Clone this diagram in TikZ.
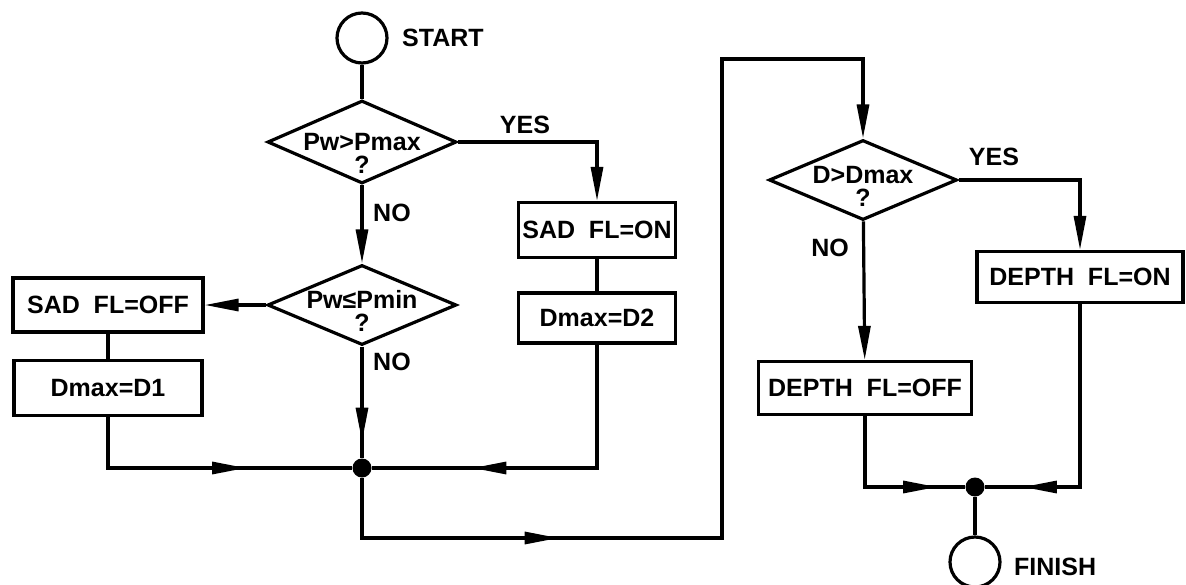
\documentclass[tikz,border=0pt]{standalone}
\usepackage{fontspec}
\setmainfont{Liberation Sans}
\usepackage{tikz}
\usetikzlibrary{arrows.meta,shapes.geometric,decorations.markings}
\tikzset{wire/.style={line width=3.2pt},
flow/.style={wire,-{Triangle[length=34pt,width=12pt]}},
midflow/.style={wire,postaction={decorate},decoration={markings,
  mark=at position #1 with {\arrow{Triangle[length=34pt,width=12pt]}}}},
lbl/.style={font=\fontsize{25}{28}\selectfont\bfseries,inner sep=0pt},
box/.style={draw,wire,lbl,minimum height=54pt},
cond/.style={draw,diamond,wire,inner sep=0pt},
term/.style={draw,circle,wire,minimum size=50pt,inner sep=0pt},
joint/.style={circle,fill,minimum size=19pt,inner sep=0pt}}

\begin{document}
\begin{tikzpicture}[x=1pt,y=-1pt]
\useasboundingbox (0,0) rectangle (1186,584);
% left half
\node[term] (start) at (362,38) {};
\node[lbl,anchor=west] at (402,38) {START};
\node[cond,minimum width=189pt,minimum height=83pt] (q1) at (362,142) {};
\node[lbl] at (q1) {Pw>Pmax};
\node[lbl] at ([yshift=-23pt]q1.center) {?};
\node[cond,minimum width=189pt,minimum height=80pt] (q2) at (362,305) {};
\node[lbl] at ([yshift=6pt]q2.center) {Pw≤Pmin};
\node[lbl] at ([yshift=-18pt]q2.center) {?};
\node[box,minimum width=190pt] (sadoff) at (108,305) {SAD~~FL=OFF};
\node[box,minimum width=188pt,minimum height=55pt] (dmax1) at (108,388) {Dmax=D1};
\node[box,minimum width=157pt,minimum height=55pt] (sadon) at (597,230) {SAD~~FL=ON};
\node[box,minimum width=157pt,minimum height=50pt] (dmax2) at (597,318) {Dmax=D2};
\node[joint] (j1) at (362,468) {};
\node[lbl] at (525,125) {YES};
\node[lbl,anchor=west] at (373,213) {NO};
\node[lbl,anchor=west] at (373,362) {NO};
% right half
\node[cond,minimum width=188pt,minimum height=80pt] (q3) at (863,180) {};
\node[lbl] at ([yshift=5pt]q3.center) {D>Dmax};
\node[lbl] at ([yshift=-18pt]q3.center) {?};
\node[box,minimum width=213pt,minimum height=53pt] (depoff) at (865,388) {DEPTH~~FL=OFF};
\node[box,minimum width=206pt,minimum height=51pt] (depon) at (1080,277) {DEPTH~~FL=ON};
\node[joint] (j2) at (975,487) {};
\node[term] (finish) at (975,562) {};
\node[lbl,anchor=west] at (1014,567) {FINISH};
\node[lbl] at (994,157) {YES};
\node[lbl] at (830,248) {NO};
\coordinate (low) at (722,538);
\coordinate (high) at (722,59);

\draw[wire] (start) -- (q1);
\draw[flow] (q1.east) -| (sadon.north);
\draw[wire] (sadon) -- (dmax2);
\draw[flow] (q1) -- (q2);
\draw[flow] (q2.west) -- (sadoff.east);
\draw[wire] (sadoff) -- (dmax1);
\draw[midflow=189pt] (dmax1.south) |- (j1);
\draw[midflow=248pt] (dmax2.south) |- (j1);
\draw[midflow=95pt] (q2.south) -- (j1);
\draw[midflow=257pt,flow] (j1) |- (low) -- (high) -| (q3.north);
\draw[flow] (q3.east) -| (depon.north);
\draw[flow] (q3) -- (depoff);
\draw[midflow=143pt] (depoff.south) |- (j2);
\draw[midflow=240pt] (depon.south) |- (j2);
\draw[wire] (j2) -- (finish);
\end{tikzpicture}
\end{document}
